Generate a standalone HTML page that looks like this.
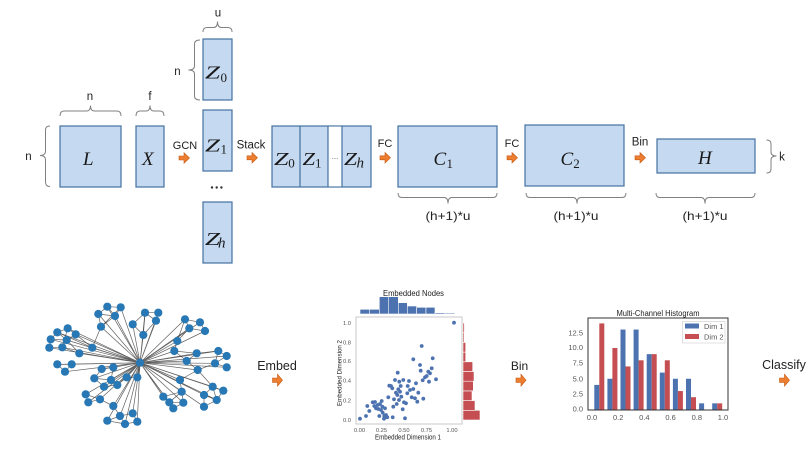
<!DOCTYPE html>
<html><head><meta charset="utf-8"><style>
html,body{margin:0;padding:0;background:#fff;}
svg{display:block;}
.t{font-family:"Liberation Sans",Arial,sans-serif;fill:#222;}
.m{font-family:"Liberation Serif",serif;font-style:italic;fill:#1a1a1a;}
.s{font-family:"Liberation Serif",serif;fill:#1a1a1a;}
.br{fill:none;stroke:#808080;stroke-width:1;}
.bx{fill:#c5d9f1;stroke:#44719f;stroke-width:1.2;}
.ar{fill:#ed7d31;stroke:#c55a11;stroke-width:0.6;}
.sm{font-family:"Liberation Sans",Arial,sans-serif;fill:#555;font-size:7.5px;}
.sc{font-family:"Liberation Sans",Arial,sans-serif;fill:#555;font-size:5.8px;}
</style></head><body>
<svg width="808" height="455" viewBox="0 0 808 455" xmlns="http://www.w3.org/2000/svg">
<!-- ===== TOP ROW ===== -->
<rect class="bx" x="60" y="126" width="61" height="61"/>
<rect class="bx" x="136" y="126" width="28" height="61"/>
<rect class="bx" x="203" y="39" width="29" height="61"/>
<rect class="bx" x="203" y="110" width="29" height="61"/>
<rect class="bx" x="203" y="202" width="29" height="61"/>
<rect class="bx" x="272" y="126" width="99" height="61"/>
<rect x="328" y="126.6" width="14" height="59.8" fill="#fff"/>
<line x1="300" y1="126" x2="300" y2="187" stroke="#44719f" stroke-width="1.2"/>
<line x1="328" y1="126" x2="328" y2="187" stroke="#44719f" stroke-width="1.2"/>
<line x1="342" y1="126" x2="342" y2="187" stroke="#44719f" stroke-width="1.2"/>
<rect class="bx" x="398" y="126" width="99" height="61"/>
<rect class="bx" x="525" y="125" width="99" height="61"/>
<rect class="bx" x="657" y="139" width="98" height="34"/>

<!-- math labels -->
<text class="m" x="83" y="165" font-size="19">L</text>
<text class="m" x="142" y="165" font-size="19">X</text>

<text class="m" x="205" y="78.5" font-size="18" textLength="15" lengthAdjust="spacingAndGlyphs">Z</text>
<text class="s" x="220.5" y="82" font-size="13">0</text>
<text class="m" x="205" y="151.7" font-size="18" textLength="15" lengthAdjust="spacingAndGlyphs">Z</text>
<text class="s" x="220.5" y="153.5" font-size="13">1</text>
<text class="m" x="205" y="245" font-size="18" textLength="15" lengthAdjust="spacingAndGlyphs">Z</text>
<text class="m" x="218" y="247.5" font-size="15">h</text>
<circle cx="212" cy="187.5" r="1.2" fill="#333"/><circle cx="216.7" cy="187.5" r="1.2" fill="#333"/><circle cx="221.4" cy="187.5" r="1.2" fill="#333"/>

<text class="m" x="274" y="165" font-size="18" textLength="14.5" lengthAdjust="spacingAndGlyphs">Z</text>
<text class="s" x="288.3" y="167.5" font-size="13">0</text>
<text class="m" x="302.5" y="165" font-size="18" textLength="12.5" lengthAdjust="spacingAndGlyphs">Z</text>
<text class="s" x="315" y="167.5" font-size="13">1</text>
<text class="t" x="335" y="159" font-size="7" text-anchor="middle">…</text>
<text class="m" x="344" y="165" font-size="18" textLength="13" lengthAdjust="spacingAndGlyphs">Z</text>
<text class="m" x="356.5" y="167.5" font-size="15">h</text>

<text class="m" x="433.5" y="165" font-size="19">C</text>
<text class="s" x="446.5" y="168" font-size="13">1</text>
<text class="m" x="560.5" y="165" font-size="19">C</text>
<text class="s" x="573.3" y="168" font-size="13">2</text>
<text class="m" x="698" y="164" font-size="19">H</text>

<!-- braces -->
<path class="br" d="M60 116 Q60 111 64 111 L86.5 111 Q90.5 111 90.5 105.5 Q90.5 111 94.5 111 L117 111 Q121 111 121 116"/>
<path class="br" d="M136 116 Q136 111 140 111 L146 111 Q150 111 150 105.5 Q150 111 154 111 L160 111 Q164 111 164 116"/>
<path class="br" d="M50 126 Q45.5 126 45.5 130 L45.5 151 Q45.5 155.5 40 155.5 Q45.5 155.5 45.5 160 L45.5 182 Q45.5 186.5 50 186.5"/>
<path class="br" d="M203 32 Q203 27.5 207 27.5 L213.5 27.5 Q217.5 27.5 217.5 21.5 Q217.5 27.5 221.5 27.5 L228 27.5 Q232 27.5 232 32"/>
<path class="br" d="M200 40 Q194.5 40 194.5 44 L194.5 66 Q194.5 70 188.5 70 Q194.5 70 194.5 74 L194.5 96 Q194.5 100 200 100"/>
<path class="br" d="M398 193 Q398 197.5 402 197.5 L444 197.5 Q448 197.5 448 203.5 Q448 197.5 452 197.5 L493 197.5 Q497 197.5 497 193"/>
<path class="br" d="M526 193 Q526 197.5 530 197.5 L573 197.5 Q577 197.5 577 203.5 Q577 197.5 581 197.5 L622 197.5 Q626 197.5 626 193"/>
<path class="br" d="M656 193 Q656 197.5 660 197.5 L701 197.5 Q705 197.5 705 203.5 Q705 197.5 709 197.5 L751 197.5 Q755 197.5 755 193"/>
<path class="br" d="M766.5 140 Q771 140 771 144 L771 152 Q771 156 776.5 156 Q771 156 771 160 L771 169 Q771 173 766.5 173"/>

<!-- small labels -->
<text class="t" x="28.5" y="160" font-size="11.5" text-anchor="middle">n</text>
<text class="t" x="90" y="100" font-size="11.5" text-anchor="middle">n</text>
<text class="t" x="150" y="100" font-size="11.5" text-anchor="middle">f</text>
<text class="t" x="218" y="16.5" font-size="11.5" text-anchor="middle">u</text>
<text class="t" x="177.5" y="75" font-size="11.5" text-anchor="middle">n</text>
<text class="t" x="782" y="160.5" font-size="11.5" text-anchor="middle">k</text>
<text class="t" x="448" y="220" font-size="12" text-anchor="middle" textLength="45" lengthAdjust="spacingAndGlyphs">(h+1)*u</text>
<text class="t" x="576" y="220" font-size="12" text-anchor="middle" textLength="45" lengthAdjust="spacingAndGlyphs">(h+1)*u</text>
<text class="t" x="705" y="220" font-size="12" text-anchor="middle" textLength="45" lengthAdjust="spacingAndGlyphs">(h+1)*u</text>
<text class="t" x="185" y="149" font-size="11" text-anchor="middle">GCN</text>
<text class="t" x="251" y="148.5" font-size="11.5" text-anchor="middle">Stack</text>
<text class="t" x="385" y="147" font-size="11" text-anchor="middle">FC</text>
<text class="t" x="512" y="147" font-size="11" text-anchor="middle">FC</text>
<text class="t" x="640" y="145.5" font-size="11.5" text-anchor="middle">Bin</text>

<!-- arrows top -->
<path class="ar" d="M179 156 h5 v-3.3 l5.5 5.3 l-5.5 5.3 v-3.3 h-5 z"/>
<path class="ar" d="M247 155.8 h5 v-3.3 l5.5 5.3 l-5.5 5.3 v-3.3 h-5 z"/>
<path class="ar" d="M380 155.8 h5 v-3.3 l5.5 5.3 l-5.5 5.3 v-3.3 h-5 z"/>
<path class="ar" d="M507 155.8 h5 v-3.3 l5.5 5.3 l-5.5 5.3 v-3.3 h-5 z"/>
<path class="ar" d="M635 155.8 h5 v-3.3 l5.5 5.3 l-5.5 5.3 v-3.3 h-5 z"/>

<!-- ===== BOTTOM ROW ===== -->
<text class="t" x="277" y="370" font-size="12.5" text-anchor="middle">Embed</text>
<text class="t" x="519.5" y="370" font-size="12" text-anchor="middle">Bin</text>
<text class="t" x="784" y="369" font-size="12.5" text-anchor="middle">Classify</text>
<path class="ar" d="M272.5 378 h5 v-3.8 l5 6 l-5 6 v-3.8 h-5 z"/>
<path class="ar" d="M516 378 h5 v-3.8 l5 6 l-5 6 v-3.8 h-5 z"/>
<path class="ar" d="M779.5 378 h5 v-3.8 l5 6 l-5 6 v-3.8 h-5 z"/>

<!-- Graph edges -->
<g stroke="#3a3a3a" stroke-width="0.7" stroke-opacity="0.8" fill="none">
<path d="M140 362.7L107.3 306.7M140 362.7L120.7 307.3M140 362.7L115 316M140 362.7L101 326.7M140 362.7L98.3 314
M140 362.7L145 312.7M140 362.7L132.7 324.3M140 362.7L143.3 335M140 362.7L156 320.7M140 362.7L158.3 312.7
M140 362.7L185 319.3M140 362.7L189.3 328.3M140 362.7L177.3 341M140 362.7L200 322.3M140 362.7L205 331
M140 362.7L57.3 332.3M140 362.7L67.7 328.3M140 362.7L75.7 334.3M140 362.7L66.7 340M140 362.7L62.3 347.3M140 362.7L79.3 353.3M140 362.7L92.3 347.7M140 362.7L50.7 339.3M140 362.7L49.3 347.7
M140 362.7L57.3 364.3M140 362.7L71.7 364.3M140 362.7L65 371.7
M140 362.7L174.3 351M140 362.7L196.7 353.3M140 362.7L218.3 351M140 362.7L226.7 356M140 362.7L186.7 361M140 362.7L215 363.3M140 362.7L226.7 367.3M140 362.7L197.7 370
M140 362.7L101.7 369M140 362.7L113.3 367.3M140 362.7L94.3 378.3M140 362.7L111 380M140 362.7L126.7 377.3M140 362.7L137.3 377.3M140 362.7L104 386.7M140 362.7L117.3 385
M140 362.7L85.7 394.3M140 362.7L100 399.3M140 362.7L88.3 402.3M140 362.7L113.3 406M140 362.7L120 416M140 362.7L132.7 413.3M140 362.7L107.3 420.7M140 362.7L125 424M140 362.7L137.3 421.7
M140 362.7L180 380M140 362.7L181.7 391.7M140 362.7L163.3 396.7M140 362.7L169.3 402.3M140 362.7L183.3 402.7M140 362.7L173.3 408.3
M140 362.7L212.7 386.7M140 362.7L223.3 390.7M140 362.7L204 395M140 362.7L216.7 400M140 362.7L204 406.7"/>
<path d="M107.3 306.7L120.7 307.3M107.3 306.7L98.3 314M107.3 306.7L115 316M120.7 307.3L115 316M98.3 314L115 316M98.3 314L101 326.7M115 316L101 326.7M120.7 307.3L101 326.7
M145 312.7L158.3 312.7M145 312.7L156 320.7M158.3 312.7L156 320.7M145 312.7L132.7 324.3M132.7 324.3L143.3 335M156 320.7L143.3 335M145 312.7L143.3 335
M185 319.3L200 322.3M185 319.3L189.3 328.3M200 322.3L205 331M189.3 328.3L205 331M189.3 328.3L177.3 341M185 319.3L177.3 341
M57.3 332.3L67.7 328.3M67.7 328.3L75.7 334.3M57.3 332.3L50.7 339.3M50.7 339.3L66.7 340M66.7 340L75.7 334.3M50.7 339.3L49.3 347.7M49.3 347.7L62.3 347.3M62.3 347.3L66.7 340M57.3 332.3L66.7 340M67.7 328.3L62.3 347.3M75.7 334.3L92.3 347.7M66.7 340L79.3 353.3M62.3 347.3L79.3 353.3M57.3 332.3L92.3 347.7M101 326.7L92.3 347.7
M57.3 364.3L71.7 364.3M71.7 364.3L65 371.7M57.3 364.3L65 371.7
M174.3 351L196.7 353.3M196.7 353.3L186.7 361M218.3 351L226.7 356M226.7 356L215 363.3M215 363.3L226.7 367.3M218.3 351L215 363.3M186.7 361L197.7 370M197.7 370L215 363.3M196.7 353.3L218.3 351M174.3 351L186.7 361M177.3 341L174.3 351
M101.7 369L113.3 367.3M101.7 369L94.3 378.3M94.3 378.3L104 386.7M104 386.7L117.3 385M111 380L117.3 385M113.3 367.3L111 380M111 380L94.3 378.3M126.7 377.3L137.3 377.3M117.3 385L126.7 377.3
M85.7 394.3L100 399.3M85.7 394.3L88.3 402.3M88.3 402.3L100 399.3M100 399.3L113.3 406M113.3 406L120 416M120 416L132.7 413.3M120 416L107.3 420.7M107.3 420.7L125 424M125 424L137.3 421.7M132.7 413.3L137.3 421.7M120 416L125 424
M180 380L181.7 391.7M181.7 391.7L163.3 396.7M163.3 396.7L169.3 402.3M169.3 402.3L183.3 402.7M183.3 402.7L173.3 408.3M169.3 402.3L173.3 408.3M181.7 391.7L183.3 402.7M163.3 396.7L173.3 408.3M181.7 391.7L169.3 402.3
M212.7 386.7L223.3 390.7M212.7 386.7L204 395M204 395L216.7 400M216.7 400L223.3 390.7M204 395L204 406.7M204 406.7L216.7 400M212.7 386.7L216.7 400M197.7 370L212.7 386.7M180 380L197.7 370"/>
</g>
<!-- Graph nodes -->
<g fill="#2878b5">
<circle cx="107.3" cy="306.7" r="4.1"/><circle cx="120.7" cy="307.3" r="4.1"/><circle cx="98.3" cy="314" r="4.1"/><circle cx="115" cy="316" r="4.1"/><circle cx="101" cy="326.7" r="4.1"/>
<circle cx="145" cy="312.7" r="4.1"/><circle cx="158.3" cy="312.7" r="4.1"/><circle cx="156" cy="320.7" r="4.1"/><circle cx="132.7" cy="324.3" r="4.1"/><circle cx="143.3" cy="335" r="4.1"/>
<circle cx="185" cy="319.3" r="4.1"/><circle cx="200" cy="322.3" r="4.1"/><circle cx="189.3" cy="328.3" r="4.1"/><circle cx="205" cy="331" r="4.1"/><circle cx="177.3" cy="341" r="4.1"/>
<circle cx="57.3" cy="332.3" r="4.1"/><circle cx="67.7" cy="328.3" r="4.1"/><circle cx="75.7" cy="334.3" r="4.1"/><circle cx="50.7" cy="339.3" r="4.1"/><circle cx="66.7" cy="340" r="4.1"/><circle cx="49.3" cy="347.7" r="4.1"/><circle cx="62.3" cy="347.3" r="4.1"/><circle cx="79.3" cy="353.3" r="4.1"/><circle cx="92.3" cy="347.7" r="4.1"/>
<circle cx="57.3" cy="364.3" r="4.1"/><circle cx="71.7" cy="364.3" r="4.1"/><circle cx="65" cy="371.7" r="4.1"/>
<circle cx="140" cy="362.7" r="4.1"/>
<circle cx="174.3" cy="351" r="4.1"/><circle cx="196.7" cy="353.3" r="4.1"/><circle cx="218.3" cy="351" r="4.1"/><circle cx="226.7" cy="356" r="4.1"/><circle cx="186.7" cy="361" r="4.1"/><circle cx="215" cy="363.3" r="4.1"/><circle cx="226.7" cy="367.3" r="4.1"/><circle cx="197.7" cy="370" r="4.1"/>
<circle cx="101.7" cy="369" r="4.1"/><circle cx="113.3" cy="367.3" r="4.1"/><circle cx="94.3" cy="378.3" r="4.1"/><circle cx="111" cy="380" r="4.1"/><circle cx="126.7" cy="377.3" r="4.1"/><circle cx="137.3" cy="377.3" r="4.1"/><circle cx="104" cy="386.7" r="4.1"/><circle cx="117.3" cy="385" r="4.1"/>
<circle cx="85.7" cy="394.3" r="4.1"/><circle cx="100" cy="399.3" r="4.1"/><circle cx="88.3" cy="402.3" r="4.1"/><circle cx="113.3" cy="406" r="4.1"/><circle cx="120" cy="416" r="4.1"/><circle cx="132.7" cy="413.3" r="4.1"/><circle cx="107.3" cy="420.7" r="4.1"/><circle cx="125" cy="424" r="4.1"/><circle cx="137.3" cy="421.7" r="4.1"/>
<circle cx="180" cy="380" r="4.1"/><circle cx="181.7" cy="391.7" r="4.1"/><circle cx="163.3" cy="396.7" r="4.1"/><circle cx="169.3" cy="402.3" r="4.1"/><circle cx="183.3" cy="402.7" r="4.1"/><circle cx="173.3" cy="408.3" r="4.1"/>
<circle cx="212.7" cy="386.7" r="4.1"/><circle cx="223.3" cy="390.7" r="4.1"/><circle cx="204" cy="395" r="4.1"/><circle cx="216.7" cy="400" r="4.1"/><circle cx="204" cy="406.7" r="4.1"/>
</g>

<!-- ===== Scatter / joint plot ===== -->
<g fill="#4c72b0" stroke="#fff" stroke-width="0.6">
<rect x="360" y="309.3" width="9.3" height="4.7"/>
<rect x="369.3" y="309.3" width="10" height="4.7"/>
<rect x="379.3" y="296.7" width="9" height="17.3"/>
<rect x="388.3" y="296.7" width="10" height="17.3"/>
<rect x="398.3" y="302.7" width="9" height="11.3"/>
<rect x="407.3" y="306" width="9.4" height="8"/>
<rect x="416.7" y="307.3" width="9.3" height="6.7"/>
<rect x="426" y="307.3" width="9" height="6.7"/>
<rect x="435" y="312.8" width="10" height="1.2"/>
<rect x="445" y="313" width="10" height="1"/>
</g>
<text class="t" x="413.5" y="296" font-size="8" fill="#333" text-anchor="middle" textLength="61" lengthAdjust="spacingAndGlyphs">Embedded Nodes</text>
<g fill="#c44e52" stroke="#fff" stroke-width="0.6">
<rect x="463" y="410.3" width="17" height="9.7"/>
<rect x="463" y="400.6" width="12" height="9.7"/>
<rect x="463" y="390.9" width="9" height="9.7"/>
<rect x="463" y="381.2" width="10.3" height="9.7"/>
<rect x="463" y="371.5" width="11" height="9.7"/>
<rect x="463" y="361.8" width="9.7" height="9.7"/>
<rect x="463" y="352.1" width="2.7" height="9.7"/>
<rect x="463" y="342.4" width="2.7" height="9.7"/>
<rect x="463" y="332.7" width="1.2" height="9.7"/>
<rect x="463" y="323" width="1.4" height="9.7"/>
</g>
<rect x="356" y="317" width="106" height="107" fill="none" stroke="#c8c8c8" stroke-width="1"/>
<g fill="#4c72b0">
<circle cx="360" cy="418.7" r="1.9"/><circle cx="366" cy="416" r="1.9"/><circle cx="367.3" cy="406" r="1.9"/><circle cx="369.3" cy="411" r="1.9"/><circle cx="372.7" cy="402.3" r="1.9"/><circle cx="374.3" cy="406" r="1.9"/><circle cx="375" cy="402" r="1.9"/><circle cx="376" cy="408.3" r="1.9"/><circle cx="377.7" cy="405" r="1.9"/><circle cx="378.3" cy="409" r="1.9"/><circle cx="380" cy="404" r="1.9"/><circle cx="379.3" cy="416" r="1.9"/><circle cx="381" cy="410" r="1.9"/><circle cx="381.7" cy="401" r="1.9"/><circle cx="382.3" cy="406.7" r="1.9"/><circle cx="382.7" cy="412.7" r="1.9"/><circle cx="384" cy="418.7" r="1.9"/><circle cx="384.3" cy="416" r="1.9"/><circle cx="385" cy="408.3" r="1.9"/><circle cx="386" cy="415" r="1.9"/><circle cx="388.3" cy="397.3" r="1.9"/><circle cx="387.3" cy="417.3" r="1.9"/><circle cx="389.3" cy="385.7" r="1.9"/><circle cx="391" cy="386" r="1.9"/><circle cx="392.3" cy="388.3" r="1.9"/><circle cx="392.7" cy="417.3" r="1.9"/><circle cx="393.3" cy="406.7" r="1.9"/><circle cx="394" cy="399.3" r="1.9"/><circle cx="395" cy="380" r="1.9"/><circle cx="396" cy="392.7" r="1.9"/><circle cx="396.7" cy="404" r="1.9"/><circle cx="397.3" cy="395" r="1.9"/><circle cx="397.7" cy="372.7" r="1.9"/><circle cx="398.3" cy="389.3" r="1.9"/><circle cx="399" cy="400" r="1.9"/><circle cx="399.3" cy="381.7" r="1.9"/><circle cx="400" cy="391.7" r="1.9"/><circle cx="400.7" cy="386" r="1.9"/><circle cx="401.3" cy="396.7" r="1.9"/><circle cx="402.7" cy="409.3" r="1.9"/><circle cx="403.3" cy="380" r="1.9"/><circle cx="404" cy="402.3" r="1.9"/><circle cx="405" cy="418.3" r="1.9"/><circle cx="406" cy="403.3" r="1.9"/><circle cx="407.3" cy="393.3" r="1.9"/><circle cx="407.7" cy="386" r="1.9"/><circle cx="409" cy="381" r="1.9"/><circle cx="410" cy="390" r="1.9"/><circle cx="411.7" cy="397.3" r="1.9"/><circle cx="413.3" cy="359.3" r="1.9"/><circle cx="413.3" cy="389" r="1.9"/><circle cx="415" cy="398.3" r="1.9"/><circle cx="416" cy="383.3" r="1.9"/><circle cx="417.3" cy="401.7" r="1.9"/><circle cx="418.3" cy="392.7" r="1.9"/><circle cx="420" cy="365" r="1.9"/><circle cx="420.7" cy="370.7" r="1.9"/><circle cx="421.7" cy="346" r="1.9"/><circle cx="422.7" cy="380.3" r="1.9"/><circle cx="423.3" cy="398.7" r="1.9"/><circle cx="425" cy="377.3" r="1.9"/><circle cx="426.7" cy="376" r="1.9"/><circle cx="428.3" cy="371.7" r="1.9"/><circle cx="429" cy="381.7" r="1.9"/><circle cx="430" cy="373.3" r="1.9"/><circle cx="431.7" cy="368.3" r="1.9"/><circle cx="432.7" cy="358.3" r="1.9"/><circle cx="436" cy="379.3" r="1.9"/><circle cx="454" cy="322.7" r="1.9"/>
</g>
<g class="sc" text-anchor="end">
<text x="351" y="325">1.0</text>
<text x="351" y="344.3">0.8</text>
<text x="351" y="363">0.6</text>
<text x="351" y="382.7">0.4</text>
<text x="351" y="402.7">0.2</text>
<text x="351" y="422">0.0</text>
</g>
<g class="sc" text-anchor="middle">
<text x="359.5" y="432">0.00</text>
<text x="381.5" y="432">0.25</text>
<text x="404" y="432">0.50</text>
<text x="426.5" y="432">0.75</text>
<text x="452" y="432">1.00</text>
</g>
<text class="t" x="408" y="439.5" font-size="7" fill="#444" text-anchor="middle" textLength="66" lengthAdjust="spacingAndGlyphs">Embedded Dimension 1</text>
<text class="t" transform="translate(341.5 373) rotate(-90)" font-size="6.5" fill="#444" text-anchor="middle" textLength="66" lengthAdjust="spacingAndGlyphs">Embedded Dimension 2</text>

<!-- ===== Multi-channel histogram ===== -->
<text class="t" x="658" y="316" font-size="8" fill="#333" text-anchor="middle" textLength="83" lengthAdjust="spacingAndGlyphs">Multi-Channel Histogram</text>
<g fill="#4c72b0">
<rect x="594.3" y="384.9" width="5" height="24.6"/>
<rect x="607.4" y="378.75" width="5" height="30.75"/>
<rect x="620.5" y="329.55" width="5" height="79.95"/>
<rect x="633.6" y="329.55" width="5" height="79.95"/>
<rect x="646.7" y="354.15" width="5" height="55.35"/>
<rect x="659.8" y="372.6" width="5" height="36.9"/>
<rect x="672.9" y="378.75" width="5" height="30.75"/>
<rect x="686" y="378.75" width="5" height="30.75"/>
<rect x="699.1" y="403.35" width="5" height="6.15"/>
<rect x="712.2" y="403.35" width="5" height="6.15"/>
</g>
<g fill="#c44e52">
<rect x="599.3" y="323.4" width="5" height="86.1"/>
<rect x="612.4" y="348" width="5" height="61.5"/>
<rect x="625.5" y="366.45" width="5" height="43.05"/>
<rect x="638.6" y="360.3" width="5" height="49.2"/>
<rect x="651.7" y="354.15" width="5" height="55.35"/>
<rect x="664.8" y="360.3" width="5" height="49.2"/>
<rect x="677.9" y="391.05" width="5" height="18.45"/>
<rect x="691" y="397.2" width="5" height="12.3"/>
<rect x="717.2" y="403.35" width="5" height="6.15"/>
</g>
<rect x="588" y="318" width="140" height="92" fill="none" stroke="#333" stroke-width="1"/>
<rect x="682.5" y="321.5" width="42.5" height="21.5" fill="#fff" fill-opacity="0.8" stroke="#ccc" stroke-width="0.6"/>
<rect x="685" y="323.5" width="14" height="5" fill="#4c72b0"/>
<rect x="685" y="334" width="14" height="5" fill="#c44e52"/>
<text class="sm" x="704" y="329">Dim 1</text>
<text class="sm" x="704" y="339.5">Dim 2</text>
<g class="sm" text-anchor="end">
<text x="583" y="335.5">12.5</text>
<text x="583" y="350">10.0</text>
<text x="583" y="365.5">7.5</text>
<text x="583" y="381.5">5.0</text>
<text x="583" y="396.5">2.5</text>
<text x="583" y="411.5">0.0</text>
</g>
<g class="sm" text-anchor="middle">
<text x="592" y="420">0.0</text>
<text x="618.2" y="420">0.2</text>
<text x="644.4" y="420">0.4</text>
<text x="670.6" y="420">0.6</text>
<text x="696.8" y="420">0.8</text>
<text x="723" y="420">1.0</text>
</g>
</svg>
</body></html>
